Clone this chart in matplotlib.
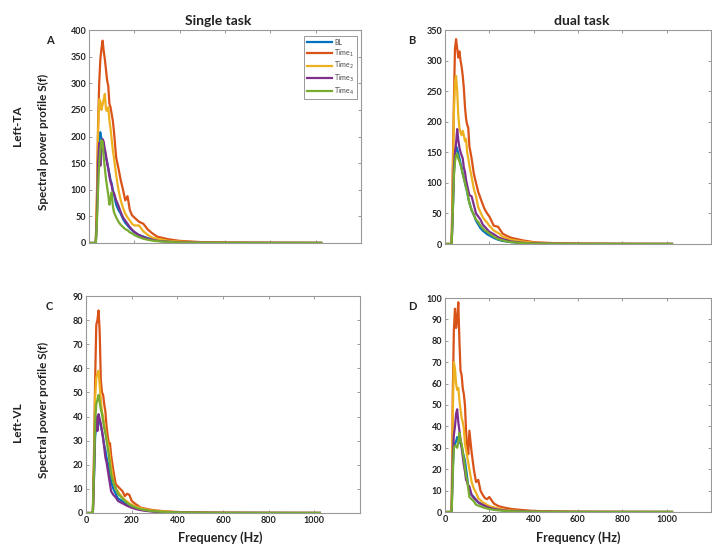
import matplotlib
matplotlib.use('Agg')
import matplotlib.pyplot as plt

plt.rcParams['font.family'] = ['Lato', 'DejaVu Sans']

# frequency grid (Hz), shared by all curves
freq = [0, 30, 35, 40, 45, 50, 55, 60, 65, 70, 75, 80, 85, 90, 95, 100, 105, 110,
        120, 130, 140, 150, 160, 170, 180, 190, 200, 220, 240, 260, 280, 300,
        350, 400, 500, 600, 800, 1024]

labels = ['BL', 'Time$_1$', 'Time$_2$', 'Time$_3$', 'Time$_4$']
colors = ['#0072BD', '#D95319', '#EDB120', '#7E2F8E', '#77AC30']

# A: single task, Left-TA
a_bl = [0, 0, 60, 160, 200, 208, 195, 180, 172, 175, 160, 152, 140, 130, 118, 112, 100, 92,
        72, 62, 55, 45, 38, 33, 28, 24, 20, 15, 12, 9, 7, 5, 3, 1.5, 0.7, 0.4, 0.2, 0.1]
a_t1 = [0, 0, 90, 220, 300, 345, 365, 380, 360, 345, 325, 305, 295, 262, 255, 242, 230, 210,
        160, 140, 118, 100, 80, 88, 62, 52, 48, 40, 36, 25, 18, 12, 7, 4, 1.5, 0.8, 0.4, 0.2]
a_t2 = [0, 0, 80, 210, 270, 265, 250, 260, 270, 280, 250, 248, 255, 230, 215, 195, 175, 160,
        127, 100, 80, 66, 55, 48, 42, 36, 33, 33, 22, 15, 10, 8, 4, 2.5, 1, 0.5, 0.3, 0.1]
a_t3 = [0, 0, 50, 150, 188, 145, 180, 195, 190, 175, 165, 150, 140, 125, 115, 108, 96, 94,
        80, 70, 58, 48, 42, 36, 30, 25, 21, 15, 11, 8, 6, 4, 2.5, 1.2, 0.6, 0.3, 0.2, 0.1]
a_t4 = [0, 0, 40, 100, 150, 175, 193, 190, 160, 140, 120, 105, 90, 72, 85, 95, 70, 58,
        48, 40, 34, 30, 26, 24, 20, 18, 15, 11, 8, 6, 4.5, 3.5, 2, 1, 0.5, 0.3, 0.15, 0.1]

# B: dual task, Left-TA
b_bl = [0, 0, 50, 115, 145, 160, 155, 148, 140, 132, 125, 115, 108, 100, 92, 85, 75, 68,
        55, 48, 38, 32, 26, 22, 19, 16, 14, 10, 7, 5, 4, 3, 1.5, 0.8, 0.4, 0.2, 0.1, 0.05]
b_t1 = [0, 0, 120, 230, 320, 335, 320, 305, 315, 300, 290, 275, 255, 225, 205, 195, 190, 160,
        140, 115, 100, 85, 75, 65, 56, 50, 45, 30, 28, 17, 13, 10, 6, 3, 1.2, 0.6, 0.3, 0.1]
b_t2 = [0, 0, 100, 215, 265, 275, 250, 210, 190, 182, 178, 185, 178, 168, 172, 150, 140, 128,
        110, 90, 78, 60, 52, 44, 39, 35, 30, 22, 18, 12, 9, 7, 4, 2, 0.8, 0.4, 0.2, 0.1]
b_t3 = [0, 0, 55, 125, 150, 165, 188, 170, 158, 150, 145, 140, 125, 118, 105, 96, 88, 80,
        78, 64, 50, 45, 40, 32, 28, 24, 20, 16, 11, 8, 6, 4, 2, 1, 0.5, 0.2, 0.1, 0.05]
b_t4 = [0, 0, 50, 110, 135, 145, 148, 140, 135, 129, 122, 114, 107, 100, 92, 86, 76, 66,
        56, 47, 40, 36, 30, 26, 22, 20, 17, 12, 8, 6, 4, 3, 1.5, 0.8, 0.4, 0.2, 0.1, 0.05]

# C: single task, Left-VL
c_bl = [0, 0, 15, 32, 36, 37, 39, 38, 36, 34, 31, 28, 26, 23, 21, 19, 16, 13,
        10, 8, 6, 5.5, 4.8, 4, 3.6, 3, 2.6, 2, 1.5, 1.1, 0.9, 0.7, 0.4, 0.25, 0.12, 0.06, 0.03, 0.01]
c_t1 = [0, 0, 25, 55, 78, 80, 84, 75, 55, 50, 49, 45, 42, 36, 32, 29, 29, 24,
        17.5, 12, 11, 10, 9, 7, 8, 7.5, 5, 3.5, 2.2, 1.8, 1.4, 1.1, 0.7, 0.4, 0.2, 0.1, 0.05, 0.02]
c_t2 = [0, 0, 20, 48, 56, 58, 59, 53, 47, 42, 40, 37, 34, 31, 29, 27, 23, 19,
        13, 10, 9, 7.5, 6.5, 5.5, 4.8, 4, 3.5, 2.6, 2, 1.5, 1.1, 0.9, 0.6, 0.3, 0.15, 0.08, 0.04, 0.02]
c_t3 = [0, 0, 15, 35, 40, 34, 41, 39, 37, 34, 31, 27, 23, 21, 18, 15, 12, 9,
        7.5, 6.5, 5, 4.5, 4, 3.5, 3, 2.6, 2.2, 1.6, 1.2, 0.9, 0.7, 0.5, 0.3, 0.2, 0.1, 0.05, 0.03, 0.01]
c_t4 = [0, 0, 18, 38, 45, 47, 49, 46, 43, 41, 38, 35, 33, 30, 27, 24, 20, 16,
        12.5, 10.5, 8, 7, 6, 5, 4.2, 3.5, 3, 2.2, 1.6, 1.2, 0.9, 0.7, 0.4, 0.25, 0.12, 0.06, 0.03, 0.01]

# D: dual task, Left-VL
d_bl = [0, 0, 20, 30, 32, 33, 35, 34, 33, 32, 31, 28, 26, 24, 20, 16, 12, 10,
        8, 7, 5.5, 4.5, 4, 3.4, 3, 2.5, 2.1, 1.6, 1.2, 0.9, 0.7, 0.5, 0.3, 0.18, 0.09, 0.05, 0.02, 0.01]
d_t1 = [0, 0, 55, 85, 95, 86, 90, 98, 80, 66, 64, 58, 55, 50, 38, 30, 27, 38,
        28, 20, 14, 15, 10, 8, 6.5, 6, 7, 4, 2.8, 2.2, 1.8, 1.4, 0.9, 0.5, 0.25, 0.12, 0.06, 0.03]
d_t2 = [0, 0, 45, 70, 67, 60, 57, 58, 52, 48, 44, 42, 39, 32, 29, 26, 23, 20,
        14, 11, 9, 6.5, 5.5, 4.5, 4, 3.3, 2.8, 2.2, 1.6, 1.2, 0.9, 0.7, 0.4, 0.25, 0.12, 0.06, 0.03, 0.01]
d_t3 = [0, 0, 25, 36, 40, 46, 48, 42, 38, 34, 30, 26, 22, 19, 15, 14, 12, 12,
        8, 6.5, 5.8, 4.5, 3.8, 3.4, 2.8, 2.4, 2, 1.5, 1.1, 0.8, 0.6, 0.5, 0.3, 0.15, 0.08, 0.04, 0.02, 0.01]
d_t4 = [0, 0, 18, 30, 31, 31, 30, 33, 37, 33, 32, 28, 25, 21, 17, 15, 11, 7,
        6, 5, 3.4, 3, 2.6, 2.2, 1.9, 1.6, 1.4, 1, 0.8, 0.6, 0.45, 0.35, 0.2, 0.1, 0.05, 0.03, 0.01, 0.01]


def draw_panel(ax, series, ymax, ystep, show_xlabels):
    for vals, lab, col in zip(series, labels, colors):
        ax.plot(freq, vals, color=col, lw=1.6, label=lab)
    ax.set_xlim(0, 1200)
    ax.set_ylim(0, ymax)
    ax.set_xticks(range(0, 1201, 200))
    ax.set_yticks(range(0, ymax + 1, ystep))
    if show_xlabels:
        ax.set_xticklabels(['0', '200', '400', '600', '800', '1000', ''])
    else:
        ax.set_xticklabels([])
    ax.tick_params(direction='in', length=2.5, width=0.6, color='#888888',
                   top=True, right=True, labelsize=6.5, labelcolor='#222222', pad=2)
    for lbl in ax.get_xticklabels() + ax.get_yticklabels():
        lbl.set_fontweight('bold')
    for sp in ax.spines.values():
        sp.set_color('#999999')
        sp.set_linewidth(0.8)


fig = plt.figure(figsize=(7.12, 5.46), dpi=100)
W, H = 712.0, 546.0

def add_axes(x0, x1, y0, y1):
    return fig.add_axes([x0 / W, 1 - y1 / H, (x1 - x0) / W, (y1 - y0) / H])

axA = add_axes(89, 361, 30, 243)
axB = add_axes(445, 711, 30, 244)
axC = add_axes(86, 360, 296, 513)
axD = add_axes(445, 711, 298, 512)

draw_panel(axA, [a_bl, a_t1, a_t2, a_t3, a_t4], 400, 50, False)
draw_panel(axB, [b_bl, b_t1, b_t2, b_t3, b_t4], 350, 50, False)
draw_panel(axC, [c_bl, c_t1, c_t2, c_t3, c_t4], 90, 10, True)
draw_panel(axD, [d_bl, d_t1, d_t2, d_t3, d_t4], 100, 10, True)

leg = axA.legend(loc='upper right', bbox_to_anchor=(0.985, 0.97), borderaxespad=0,
                 fontsize=5, handlelength=3.6, handletextpad=0.4, labelspacing=0.22,
                 fancybox=False, framealpha=1, borderpad=0.35)
leg.get_frame().set_edgecolor('#999999')
leg.get_frame().set_linewidth(0.7)
for t in leg.get_texts():
    t.set_color('#444444')

def ftext(x, y, s, **kw):
    fig.text(x / W, 1 - y / H, s, ha='center', va='center', fontweight='bold',
             color='#222222', **kw)

ftext(218, 21, 'Single task', fontsize=10)
ftext(582, 21, 'dual task', fontsize=10)
ftext(50, 40, 'A', fontsize=8)
ftext(412, 40, 'B', fontsize=8)
ftext(49, 307, 'C', fontsize=8)
ftext(412, 307, 'D', fontsize=8)
ftext(18, 126, 'Left-TA', fontsize=8.5, rotation=90)
ftext(43, 142, 'Spectral power profile S(f)', fontsize=8.5, rotation=90)
ftext(18, 422, 'Left-VL', fontsize=8.5, rotation=90)
ftext(43, 410, 'Spectral power profile S(f)', fontsize=8.5, rotation=90)
ftext(220, 538, 'Frequency (Hz)', fontsize=9)
ftext(578, 538, 'Frequency (Hz)', fontsize=9)

fig.savefig('out.png', dpi=100)
